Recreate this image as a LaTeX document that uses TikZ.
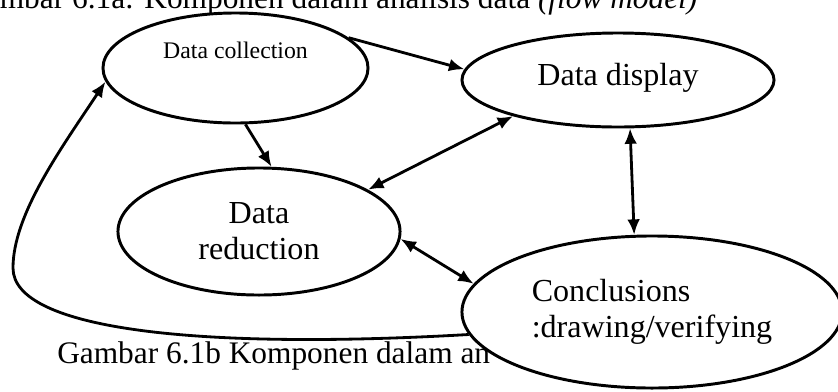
\documentclass[tikz,border=0pt]{standalone}
\usepackage{fontspec}
\setmainfont{Liberation Serif}
\usetikzlibrary{shapes,arrows,arrows.meta}
\tikzstyle{bubble} = [draw, ellipse, fill=white, line width=2.1pt, inner sep=0pt, font=\fontsize{22.8pt}{25.6pt}\selectfont]
\tikzstyle{caption} = [anchor=base west, inner sep=0pt, font=\fontsize{22.3pt}{26pt}\selectfont]
\tikzstyle{link} = [line width=2pt]

\begin{document}
\begin{tikzpicture}[x=0.025cm, y=-0.025cm, >={Latex[length=11pt,width=9pt]}]
    \useasboundingbox (0,0) rectangle (838,391);
    \clip (0,0) rectangle (838,391);
    % Define the captions
    \node [caption] (title) at (-37,8) {Gambar 6.1a: Komponen dalam analisis data \textit{(flow model)}};
    \node [caption] (note) at (57,363) {Gambar 6.1b Komponen dalam an};
    % Define the nodes
    \node [bubble, minimum width=6.625cm, minimum height=2.75cm, text height=12pt, text depth=25pt, font=\fontsize{16.9pt}{20pt}\selectfont] (coll) at (235.5,68) {Data collection};
    \node [bubble, minimum width=7.8cm, minimum height=2.35cm, text depth=8pt] (disp) at (618,80) {Data display\hspace{20pt}};
    \node [bubble, minimum width=7.05cm, minimum height=3.175cm, align=center] (red) at (259,231.5) {Data\\reduction};
    \node [bubble, minimum width=9.5cm, minimum height=3.8cm, align=left] (concl) at (652,312) {Conclusions\\:drawing/verifying};
    % Connect the nodes
    \draw [link, ->] (coll.15) -- (disp.176);
    \draw [link, ->] (coll.280) -- (red.79);
    \draw [link, <->] (red.21) -- (disp.199);
    \draw [link, <->] (disp.284) -- (concl.103);
    \draw [link, <->] (red.357) -- (concl.171);
    \draw [link, ->] (concl.187) .. controls (200,350) and (13,330) .. (13,268)
        .. controls (13,215) and (60,150) .. (coll.186);
\end{tikzpicture}
\end{document}
